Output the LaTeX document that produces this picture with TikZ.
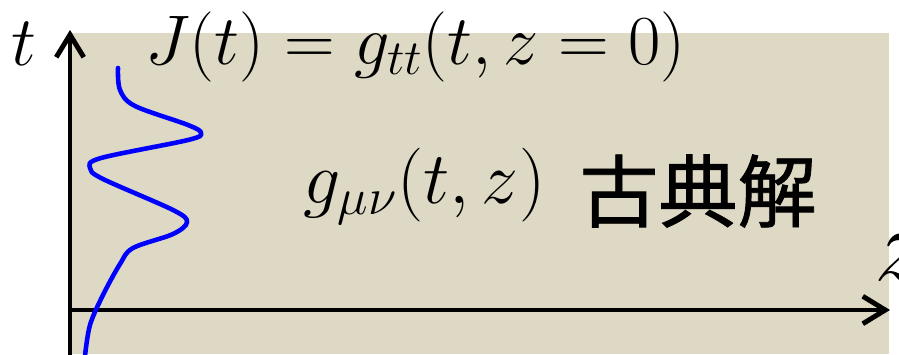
\RequirePackage{fix-cm}
\documentclass[tikz,border=0pt]{standalone}
\usepackage{fontspec}
\newfontfamily\cjk[FakeBold=1]{Noto Sans CJK JP}
\usetikzlibrary{arrows.meta}
\definecolor{bgtan}{HTML}{DDD9C4}

\begin{document}
\begin{tikzpicture}[
  x=0.2mm, y=-0.2mm,
  axis/.style={line width=2.8pt,-{Straight Barb[length=4.5mm,width=5.5mm]}},
  wave/.style={blue,line width=2.6pt,line cap=round},
  lbl/.style={inner sep=0pt,font=\fontsize{40}{46}\selectfont}
]
  \useasboundingbox (0,0) rectangle (899,354);
  \fill[bgtan] (70,33) rectangle (889,354);

  \coordinate (tbot) at (70,356);
  \coordinate (ttop) at (70,30);
  \coordinate (zbeg) at (68,310);
  \coordinate (zend) at (890,310);

  \draw[axis] (tbot) -- (ttop);
  \draw[axis] (zbeg) -- (zend);

  \node[lbl,anchor=base] (tlabel) at (24,65) {$t$};
  \node[lbl,font=\fontsize{60}{66}\selectfont,anchor=base west] (zlabel) at (874,280) {$z$};
  \node[lbl,anchor=base west] (source) at (145,64) {$J(t)=g_{tt}(t,z=0)$};
  \node[lbl,font=\fontsize{42}{48}\selectfont,anchor=base west] (metric) at (303,203) {$g_{\mu\nu}(t,z)$};
  \node[inner sep=0pt,font=\cjk\fontsize{45}{50}\selectfont] (classic) at (698,191) {古典解};

  % boundary profile J(t)
  \draw[wave] plot[smooth,tension=0.55] coordinates {
    (118,68) (120,90) (135,106) (188,125) (201,133) (188,140)
    (101,158) (90,168) (103,179) (173,210) (187,222) (173,234)
    (133,248) (120,264) (103,295) (90,325) (85,356)};
\end{tikzpicture}
\end{document}
